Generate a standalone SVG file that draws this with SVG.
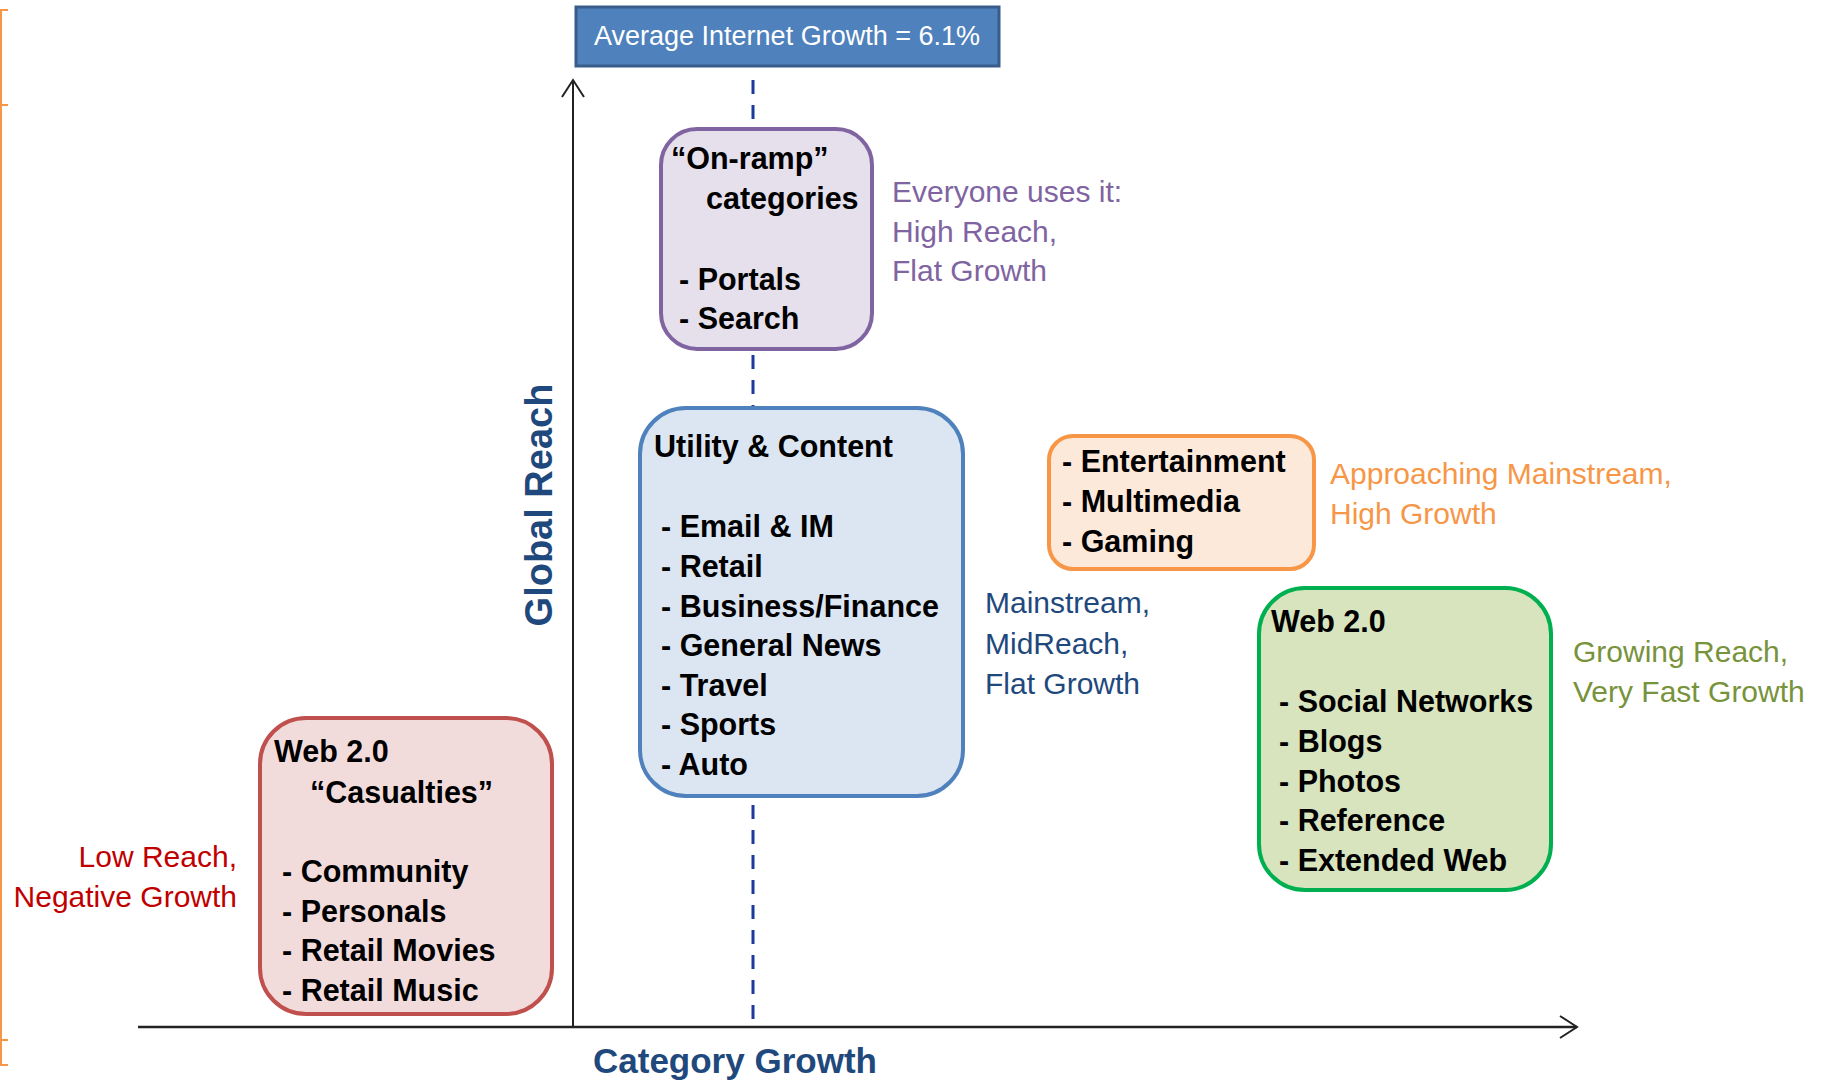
<svg xmlns="http://www.w3.org/2000/svg" width="1825" height="1083" viewBox="0 0 1825 1083">
<style>
.item{font-family:"Liberation Sans",Arial,sans-serif;font-weight:bold;font-size:30.5px;fill:#000}
.side{font-family:"Liberation Sans",Arial,sans-serif;font-size:30px}
.axis{font-family:"Liberation Sans",Arial,sans-serif;font-weight:bold;fill:#1F497D}
.box{stroke-width:4}
</style>
<defs>
<marker id="open" viewBox="0 0 20 24" refX="18" refY="12" markerWidth="20" markerHeight="24" markerUnits="userSpaceOnUse" orient="auto">
<path d="M1,1 L18,12 L1,23" fill="none" stroke="#222" stroke-width="2"/>
</marker>
</defs>
<rect width="1825" height="1083" fill="#fff"/>

<g id="bracket" fill="none" stroke="#F79646" stroke-width="2">
<path d="M8,10 H1 V1065 H8 M1,105 H8 M1,1040 H8"/>
</g>

<g id="connectors">
<line x1="753" y1="80" x2="753" y2="1027" stroke="#1C3A9A" stroke-width="3" stroke-dasharray="14 11"/>
<line x1="573" y1="1027" x2="573" y2="80" stroke="#222" stroke-width="2" marker-end="url(#open)"/>
<line x1="138" y1="1027" x2="1577" y2="1027" stroke="#222" stroke-width="2.5" marker-end="url(#open)"/>
</g>

<g id="avg-growth">
<rect x="576" y="7" width="423" height="59" fill="#4F81BD" stroke="#385D8A" stroke-width="3"/>
<text x="594" y="45" font-family="Liberation Sans, Arial, sans-serif" font-size="27" fill="#fff">Average Internet Growth = 6.1%</text>
</g>

<g id="y-label">
<text class="axis" font-size="38" text-anchor="middle" transform="translate(552,505) rotate(-90)">Global Reach</text>
</g>
<g id="x-label">
<text class="axis" x="593" y="1073" font-size="35">Category Growth</text>
</g>

<g id="on-ramp">
<rect class="box" x="661" y="129" width="211" height="220" rx="36" fill="#E5E0EC" stroke="#8064A2"/>
<text class="item" x="671" y="169">“On-ramp”</text>
<text class="item" x="706" y="209">categories</text>
<text class="item" x="679" y="290">- Portals</text>
<text class="item" x="679" y="329">- Search</text>
</g>
<g id="on-ramp-note">
<text class="side" fill="#8064A2"><tspan x="892" y="202">Everyone uses it:</tspan><tspan x="892" y="242">High Reach,</tspan><tspan x="892" y="281">Flat Growth</tspan></text>
</g>

<g id="utility">
<rect class="box" x="640" y="408" width="323" height="388" rx="46" fill="#DCE6F2" stroke="#4F81BD"/>
<text class="item" x="654" y="457">Utility &amp; Content</text>
<text class="item" x="661" y="537">- Email &amp; IM</text>
<text class="item" x="661" y="577">- Retail</text>
<text class="item" x="661" y="617">- Business/Finance</text>
<text class="item" x="661" y="656">- General News</text>
<text class="item" x="661" y="696">- Travel</text>
<text class="item" x="661" y="735">- Sports</text>
<text class="item" x="661" y="775">- Auto</text>
</g>
<g id="utility-note">
<text class="side" fill="#1F497D"><tspan x="985" y="613">Mainstream,</tspan><tspan x="985" y="654">MidReach,</tspan><tspan x="985" y="694">Flat Growth</tspan></text>
</g>

<g id="entertainment">
<rect class="box" x="1049" y="436" width="265" height="133" rx="24" fill="#FDE9D9" stroke="#F79646"/>
<text class="item" x="1062" y="472">- Entertainment</text>
<text class="item" x="1062" y="512">- Multimedia</text>
<text class="item" x="1062" y="552">- Gaming</text>
</g>
<g id="entertainment-note">
<text class="side" fill="#F79646"><tspan x="1330" y="484">Approaching Mainstream,</tspan><tspan x="1330" y="524">High Growth</tspan></text>
</g>

<g id="web20">
<rect class="box" x="1259" y="588" width="292" height="302" rx="46" fill="#D7E4BD" stroke="#00B050"/>
<text class="item" x="1271" y="632">Web 2.0</text>
<text class="item" x="1279" y="712">- Social Networks</text>
<text class="item" x="1279" y="752">- Blogs</text>
<text class="item" x="1279" y="792">- Photos</text>
<text class="item" x="1279" y="831">- Reference</text>
<text class="item" x="1279" y="871">- Extended Web</text>
</g>
<g id="web20-note">
<text class="side" fill="#77933C"><tspan x="1573" y="662">Growing Reach,</tspan><tspan x="1573" y="702">Very Fast Growth</tspan></text>
</g>

<g id="casualties">
<rect class="box" x="260" y="718" width="292" height="296" rx="46" fill="#F2DCDB" stroke="#C0504D"/>
<text class="item" x="274" y="762">Web 2.0</text>
<text class="item" x="310" y="803">“Casualties”</text>
<text class="item" x="282" y="882">- Community</text>
<text class="item" x="282" y="922">- Personals</text>
<text class="item" x="282" y="961">- Retail Movies</text>
<text class="item" x="282" y="1001">- Retail Music</text>
</g>
<g id="casualties-note">
<text class="side" fill="#C00000" text-anchor="end"><tspan x="237" y="867">Low Reach,</tspan><tspan x="237" y="907">Negative Growth</tspan></text>
</g>
</svg>
